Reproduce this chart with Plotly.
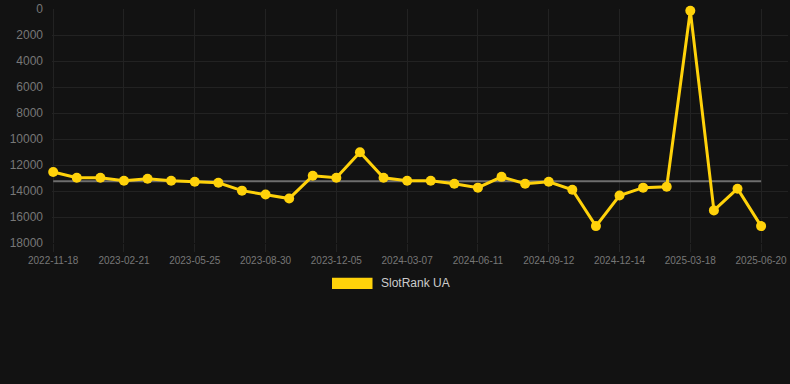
import plotly.graph_objects as go

dates = ["2022-11-18", "2022-12-20", "2023-01-20", "2023-02-21", "2023-03-23", "2023-04-24",
         "2023-05-25", "2023-06-26", "2023-07-28", "2023-08-30", "2023-10-01", "2023-11-02",
         "2023-12-05", "2024-01-05", "2024-02-05", "2024-03-07", "2024-04-08", "2024-05-10",
         "2024-06-11", "2024-07-12", "2024-08-11", "2024-09-12", "2024-10-13", "2024-11-13",
         "2024-12-14", "2025-01-14", "2025-02-15", "2025-03-18", "2025-04-18", "2025-05-20",
         "2025-06-20"]
rank = [12530, 12980, 12980, 13210, 13060, 13210, 13290, 13360, 13970, 14270, 14580, 12830,
        12980, 11010, 12980, 13210, 13210, 13440, 13740, 12910, 13440, 13290, 13900, 16700,
        14350, 13740, 13670, 120, 15490, 13820, 16700]
average_rank = 13250
series_name = "SlotRank UA"
tick_labels = dates[::3]
y_ticks = list(range(0, 18001, 2000))
y_tick_text = [str(v) for v in y_ticks]

GOLD = "#FFD20A"
BG = "#121212"
GRID = "#222222"
FONT = "Liberation Sans, Arial, Helvetica, sans-serif"

fig = go.Figure()
fig.add_trace(go.Scatter(
    x=[dates[0], dates[-1]], y=[average_rank, average_rank], mode="lines",
    line=dict(color="#6e6e6e", width=2), showlegend=False, hoverinfo="skip"))
fig.add_trace(go.Scatter(
    x=dates, y=rank, mode="lines+markers", name=series_name,
    line=dict(color=GOLD, width=3),
    marker=dict(color=GOLD, size=10),
    cliponaxis=False, showlegend=False))

# legend drawn as box + label
fig.add_shape(type="rect", xref="paper", yref="paper",
              x0=(332 - 52) / 736, x1=(372.5 - 52) / 736,
              y0=(384 - 141 - 289.7) / 237, y1=(384 - 141 - 278.3) / 237,
              fillcolor=GOLD, line=dict(width=0))
fig.add_annotation(text=series_name, xref="paper", yref="paper",
                   x=(378.5 - 52) / 736, y=(384 - 141 - 284) / 237,
                   xanchor="left", yanchor="middle", showarrow=False,
                   font=dict(family=FONT, size=12, color="#cccccc"))

fig.update_layout(
    width=790, height=384,
    margin=dict(l=52, r=2, t=6, b=141),
    paper_bgcolor=BG, plot_bgcolor=BG,
    font=dict(family=FONT, color="#777777"),
    showlegend=False,
)
fig.update_xaxes(
    type="category", categoryorder="array", categoryarray=dates,
    range=[-0.05, 31.14],
    tickmode="array", tickvals=tick_labels, ticktext=tick_labels,
    tickfont=dict(size=10, color="#777777"),
    showgrid=True, gridcolor=GRID, gridwidth=1,
    ticks="outside", ticklen=8, tickcolor=GRID,
    showline=False, zeroline=False,
)
fig.update_yaxes(
    range=[18000, -10], tickmode="array", tickvals=y_ticks, ticktext=y_tick_text,
    tickfont=dict(size=12, color="#777777"),
    showgrid=True, gridcolor=GRID, gridwidth=1,
    ticks="", ticklabelstandoff=8, ticklabeloverflow="allow",
    showline=False, zeroline=False,
)

fig.write_html("out.html", config={"displayModeBar": False},
               post_script="document.body.style.margin='0';document.body.style.background='#121212';")
